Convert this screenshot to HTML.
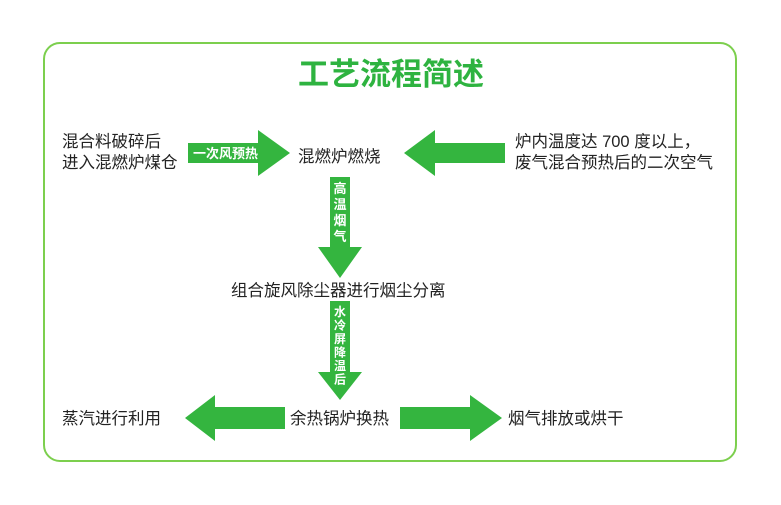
<!DOCTYPE html>
<html><head><meta charset="utf-8"><style>
html,body{margin:0;padding:0;background:#fff;}
svg{display:block;}
text{font-family:"Liberation Sans","Noto Sans CJK SC",sans-serif;}
</style></head><body>
<svg width="781" height="505" viewBox="0 0 781 505" xmlns="http://www.w3.org/2000/svg">
<rect x="44" y="43" width="692" height="418" rx="16" ry="16" fill="#fff" stroke="#7ccf4e" stroke-width="2"/>
<text x="391" y="85" text-anchor="middle" font-size="31" font-weight="bold" fill="#2eb340">工艺流程简述</text>

<g fill="#34b53f">
<polygon points="188,143 258,143 258,130 290,153 258,176 258,163 188,163"/>
<polygon points="505,143 435,143 435,130 404,153 435,176 435,163 505,163"/>
<polygon points="330,177 350,177 350,247 362,247 340,278 318,247 330,247"/>
<polygon points="330,301 350,301 350,372 362,372 340,400 318,372 330,372"/>
<polygon points="285,407 215,407 215,395 185,418 215,441 215,429 285,429"/>
<polygon points="400,407 470,407 470,395 502,418 470,441 470,429 400,429"/>
</g>

<g font-size="16.5" fill="#222">
<text x="62" y="147">混合料破碎后</text>
<text x="62" y="168">进入混燃炉煤仓</text>
<text x="298" y="162">混燃炉燃烧</text>
<text x="515" y="147">炉内温度达 700 度以上，</text>
<text x="515" y="168">废气混合预热后的二次空气</text>
<text x="231" y="296">组合旋风除尘器进行烟尘分离</text>
<text x="62" y="424">蒸汽进行利用</text>
<text x="290" y="424">余热锅炉换热</text>
<text x="508" y="424">烟气排放或烘干</text>
</g>

<g font-size="13" font-weight="bold" fill="#fff">
<text x="193" y="158">一次风预热</text>
<g text-anchor="middle">
<text x="340" y="193">高</text>
<text x="340" y="209">温</text>
<text x="340" y="225">烟</text>
<text x="340" y="241">气</text>
</g>
<g text-anchor="middle" font-size="12">
<text x="340" y="316">水</text>
<text x="340" y="329.5">冷</text>
<text x="340" y="343">屏</text>
<text x="340" y="356.5">降</text>
<text x="340" y="370">温</text>
<text x="340" y="383.5">后</text>
</g>
</g>
</svg>
</body></html>
